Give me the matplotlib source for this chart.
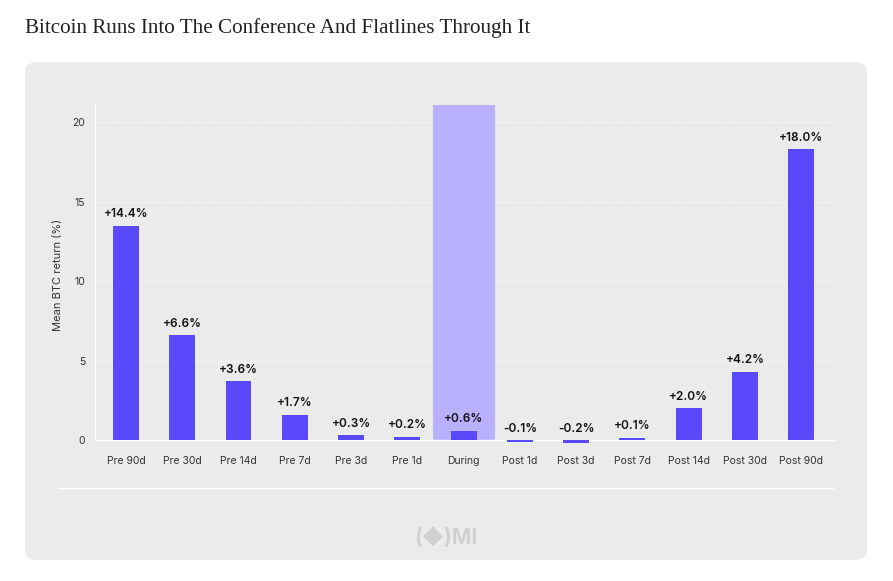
import matplotlib.pyplot as plt
from matplotlib.patches import FancyBboxPatch

plt.rcParams["font.family"] = ["Inter", "DejaVu Sans"]

# data
windows = ["Pre 90d", "Pre 30d", "Pre 14d", "Pre 7d", "Pre 3d", "Pre 1d", "During",
           "Post 1d", "Post 3d", "Post 7d", "Post 14d", "Post 30d", "Post 90d"]
bar_heights = [13.5, 6.6, 3.7, 1.6, 0.3, 0.2, 0.6, -0.1, -0.2, 0.15, 2.0, 4.3, 18.3]
bar_labels = ["+14.4%", "+6.6%", "+3.6%", "+1.7%", "+0.3%", "+0.2%", "+0.6%",
              "-0.1%", "-0.2%", "+0.1%", "+2.0%", "+4.2%", "+18.0%"]
y_ticks = [0, 5, 10, 15, 20]

fig = plt.figure(figsize=(8.93, 5.81), dpi=100)
fig.patch.set_facecolor("white")

# grey rounded panel
panel = FancyBboxPatch((25 / 893, 1 - 560 / 581), 842 / 893, 498 / 581,
                       boxstyle="round,pad=0,rounding_size=0.015",
                       transform=fig.transFigure, facecolor="#ebebeb", edgecolor="none", zorder=-5)
fig.patches.append(panel)

fig.text(25 / 893, 1 - 28 / 581, "Bitcoin Runs Into The Conference And Flatlines Through It",
         fontsize=15.2, family="Liberation Serif", color="#222222", va="center")

ax = fig.add_axes([95 / 893, 1 - 445 / 581, 740 / 893, 340 / 581])
ax.set_facecolor("none")
x = list(range(len(windows)))
during = windows.index("During")
ax.bar(during, 21.1, width=1.1, color="#b9b1ff", zorder=1)
ax.bar(x, bar_heights, width=0.46, color="#5a49fb", zorder=3)
for xi, h, lab in zip(x, bar_heights, bar_labels):
    ax.text(xi, max(h, 0) + 0.35, lab, ha="center", va="bottom", fontsize=8.5,
            fontweight="semibold", color="#111111", zorder=4)

ax.set_xlim(-0.55, 12.6)
ax.set_ylim(-0.3, 21.1)
ax.set_yticks(y_ticks)
ax.set_xticks(x)
ax.set_xticklabels(windows)
ax.tick_params(length=0, labelsize=7.5, colors="#333333")
ax.tick_params(axis="x", pad=8)
ax.tick_params(axis="y", pad=7)
for s in ["top", "right", "bottom"]:
    ax.spines[s].set_visible(False)
ax.spines["left"].set_color("white")
ax.spines["left"].set_bounds(0, 21.1)
ax.grid(axis="y", color="white", linestyle=":", linewidth=0.9, zorder=0)
ax.axhline(0, color="white", linewidth=1, zorder=2)
ax.set_axisbelow(True)
ax.set_ylabel("Mean BTC return (%)", fontsize=8, color="#333333", labelpad=7)

# bottom rule and logo
fig.add_artist(plt.Line2D([58 / 893, 833 / 893], [1 - 488 / 581] * 2,
                          transform=fig.transFigure, color="white", linewidth=1))
fig.text(446 / 893, 1 - 538 / 581, "(◆)MI", ha="center", va="center", fontsize=15,
         fontweight="bold", color="#d0d0d0")

fig.savefig("out.png", dpi=100)
